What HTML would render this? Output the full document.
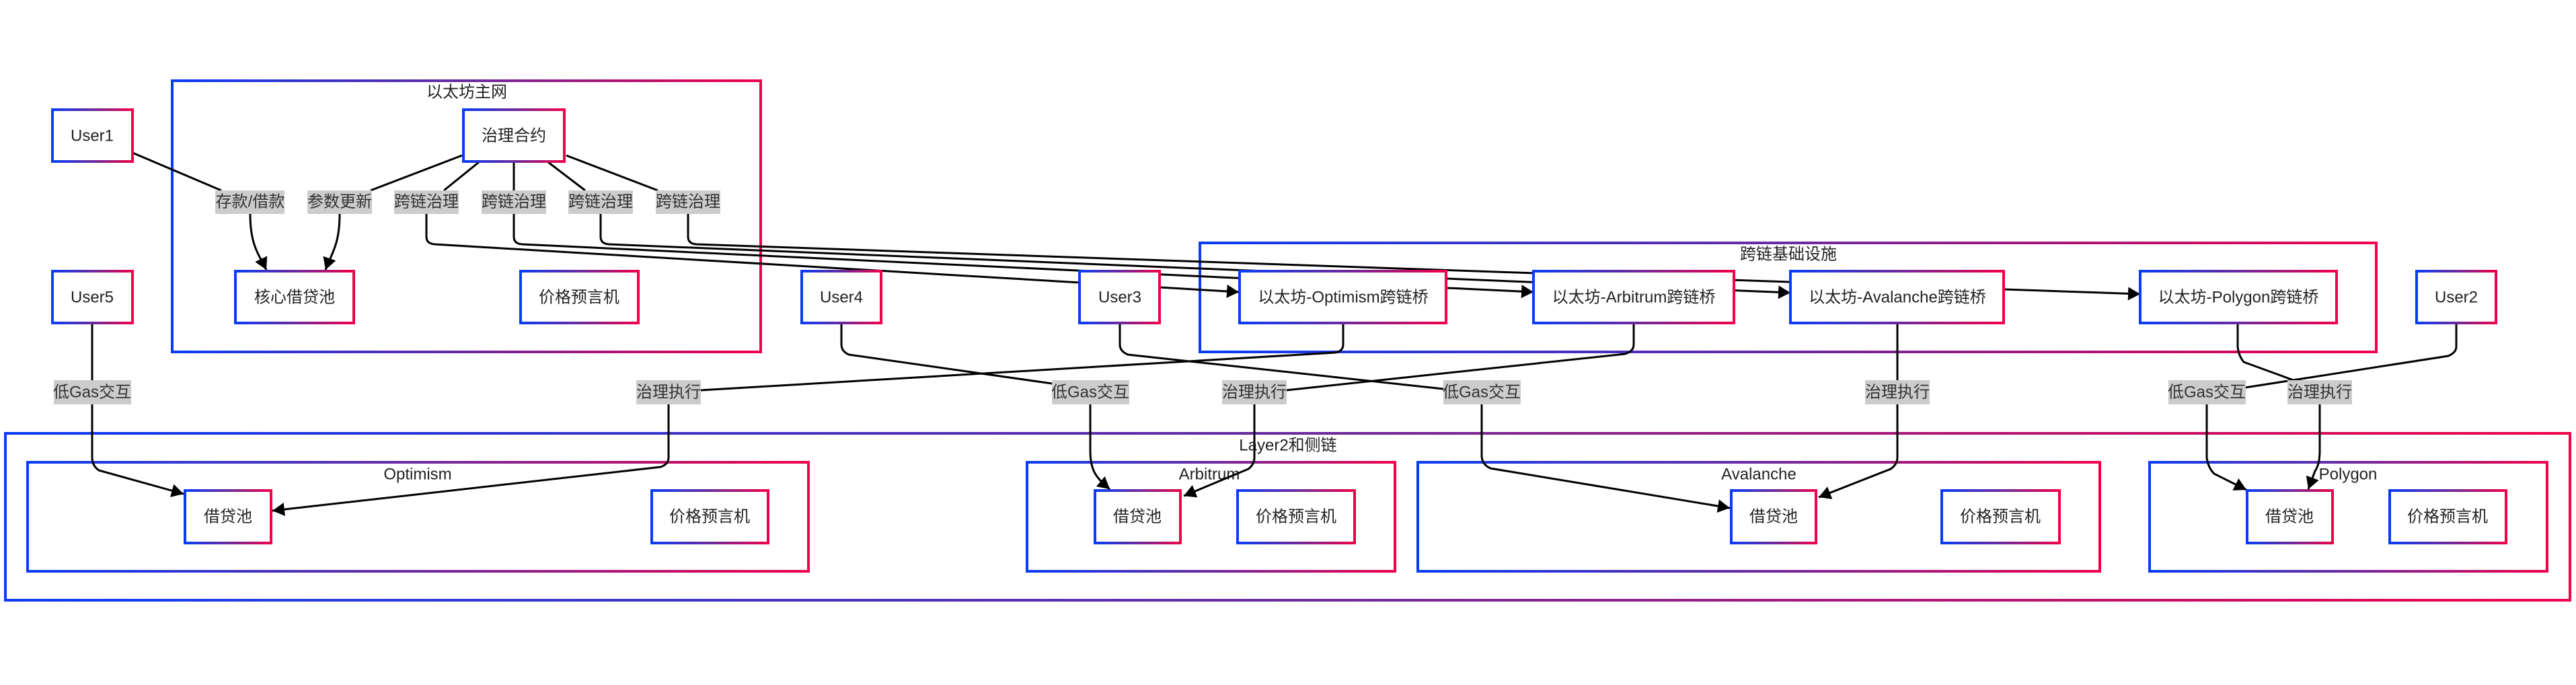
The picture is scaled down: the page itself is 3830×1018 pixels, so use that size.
<!DOCTYPE html>
<html><head><meta charset="utf-8"><style>
html,body{margin:0;padding:0;background:#fff;}
svg{display:block;}
text{font-family:"Liberation Sans","Noto Sans CJK SC",sans-serif;font-size:24px;}
.t{fill:#222;text-anchor:middle;dominant-baseline:central;}
.bx{fill:#fff;stroke:url(#g);stroke-width:4;}
.ct{fill:none;stroke:url(#g);stroke-width:4;}
.ln{fill:none;stroke:#000;stroke-width:3;}
.lb{fill:#cccccc;}
.lt{fill:#333;text-anchor:middle;dominant-baseline:central;}
</style></head><body>
<svg width="3830" height="1018" viewBox="0 0 3830 1018" xmlns="http://www.w3.org/2000/svg">
<defs>
<linearGradient id="g" x1="0" y1="0" x2="1" y2="0">
<stop offset="0" stop-color="#0a3cf5"/><stop offset="0.5" stop-color="#6a2aa0"/><stop offset="1" stop-color="#f0004a"/>
</linearGradient>
<marker id="a" markerUnits="userSpaceOnUse" markerWidth="24" markerHeight="24" refX="18" refY="10" orient="auto">
<path d="M0,0 L18,10 L0,20 Z" fill="#000"/>
</marker>
</defs>

<!-- containers -->
<rect class="ct" x="256" y="120" width="875" height="403"/>
<text class="t" x="694" y="137">以太坊主网</text>
<rect class="ct" x="1784" y="361" width="1749" height="162"/>
<text class="t" x="2659" y="378">跨链基础设施</text>
<rect class="ct" x="8" y="644" width="3813" height="248"/>
<text class="t" x="1915" y="662">Layer2和侧链</text>
<rect class="ct" x="41" y="687" width="1161" height="162"/>
<text class="t" x="621" y="705">Optimism</text>
<rect class="ct" x="1527" y="687" width="547" height="162"/>
<text class="t" x="1798" y="705">Arbitrum</text>
<rect class="ct" x="2108" y="687" width="1014" height="162"/>
<text class="t" x="2615" y="705">Avalanche</text>
<rect class="ct" x="3196" y="687" width="591" height="162"/>
<text class="t" x="3491" y="705">Polygon</text>

<!-- connectors -->
<path class="ln" d="M197,227 L329,283"/>
<path class="ln" d="M372,318 C372,365 385,378 396,401" marker-end="url(#a)"/>
<path class="ln" d="M687,231 L551,283"/>
<path class="ln" d="M505,318 C505,365 492,378 484,401" marker-end="url(#a)"/>
<path class="ln" d="M712,241 L660,283"/>
<path class="ln" d="M634,318 L634,352 Q634,362 646,363 L1842,434" marker-end="url(#a)"/>
<path class="ln" d="M764,241 L764,283"/>
<path class="ln" d="M764,318 L764,352 Q764,362 776,363 L2280,434" marker-end="url(#a)"/>
<path class="ln" d="M815,241 L870,283"/>
<path class="ln" d="M893,318 L893,352 Q893,362 905,363 L2662,435" marker-end="url(#a)"/>
<path class="ln" d="M842,231 L978,283"/>
<path class="ln" d="M1023,318 L1023,352 Q1023,362 1035,363 L3182,437" marker-end="url(#a)"/>

<path class="ln" d="M137,480 L137,565"/>
<path class="ln" d="M137,601 L137,680 Q137,692 147,699 L273,734" marker-end="url(#a)"/>
<path class="ln" d="M1997,480 L1997,512 Q1997,522 1985,524 L1041,580"/>
<path class="ln" d="M994,601 L994,680 Q994,690 982,694 L405,759" marker-end="url(#a)"/>
<path class="ln" d="M1251,480 L1251,512 Q1251,522 1262,527 L1564,570"/>
<path class="ln" d="M1621,601 L1621,670 C1621,700 1630,710 1650,727" marker-end="url(#a)"/>
<path class="ln" d="M1665,480 L1665,512 Q1665,522 1677,527 L2146,578"/>
<path class="ln" d="M2203,601 L2203,677 Q2203,690 2216,696 L2572,755" marker-end="url(#a)"/>
<path class="ln" d="M2429,480 L2429,512 Q2429,522 2416,526 L1912,580"/>
<path class="ln" d="M1865,601 L1865,680 Q1865,690 1856,697 L1760,737" marker-end="url(#a)"/>
<path class="ln" d="M2821,480 L2821,565"/>
<path class="ln" d="M2821,601 L2821,680 Q2821,690 2811,697 L2704,739" marker-end="url(#a)"/>
<path class="ln" d="M3327,480 L3327,515 Q3328,528 3336,538 L3410,565"/>
<path class="ln" d="M3449,601 L3449,670 Q3449,690 3442,700 L3432,727" marker-end="url(#a)"/>
<path class="ln" d="M3652,480 L3652,515 Q3652,524 3640,529 L3338,576"/>
<path class="ln" d="M3281,601 L3281,680 Q3283,695 3292,704 L3340,728" marker-end="url(#a)"/>

<!-- labels row 1 -->
<rect class="lb" x="320" y="283" width="103" height="35"/><text class="lt" x="372" y="300">存款/借款</text>
<rect class="lb" x="457" y="283" width="96" height="35"/><text class="lt" x="505" y="300">参数更新</text>
<rect class="lb" x="586" y="283" width="96" height="35"/><text class="lt" x="634" y="300">跨链治理</text>
<rect class="lb" x="716" y="283" width="96" height="35"/><text class="lt" x="764" y="300">跨链治理</text>
<rect class="lb" x="845" y="283" width="96" height="35"/><text class="lt" x="893" y="300">跨链治理</text>
<rect class="lb" x="975" y="283" width="96" height="35"/><text class="lt" x="1023" y="300">跨链治理</text>

<!-- labels row 2 -->
<rect class="lb" x="80" y="565" width="115" height="36"/><text class="lt" x="137" y="583">低Gas交互</text>
<rect class="lb" x="946" y="565" width="96" height="36"/><text class="lt" x="994" y="583">治理执行</text>
<rect class="lb" x="1564" y="565" width="115" height="36"/><text class="lt" x="1621" y="583">低Gas交互</text>
<rect class="lb" x="1817" y="565" width="96" height="36"/><text class="lt" x="1865" y="583">治理执行</text>
<rect class="lb" x="2146" y="565" width="115" height="36"/><text class="lt" x="2203" y="583">低Gas交互</text>
<rect class="lb" x="2773" y="565" width="96" height="36"/><text class="lt" x="2821" y="583">治理执行</text>
<rect class="lb" x="3224" y="565" width="115" height="36"/><text class="lt" x="3281" y="583">低Gas交互</text>
<rect class="lb" x="3401" y="565" width="96" height="36"/><text class="lt" x="3449" y="583">治理执行</text>

<!-- nodes -->
<rect class="bx" x="78" y="163" width="119" height="77"/><text class="t" x="137" y="202">User1</text>
<rect class="bx" x="689" y="163" width="150" height="77"/><text class="t" x="764" y="202">治理合约</text>
<rect class="bx" x="78" y="403" width="119" height="77"/><text class="t" x="137" y="442">User5</text>
<rect class="bx" x="350" y="403" width="176" height="77"/><text class="t" x="438" y="442">核心借贷池</text>
<rect class="bx" x="774" y="403" width="175" height="77"/><text class="t" x="861" y="442">价格预言机</text>
<rect class="bx" x="1192" y="403" width="118" height="77"/><text class="t" x="1251" y="442">User4</text>
<rect class="bx" x="1605" y="403" width="119" height="77"/><text class="t" x="1665" y="442">User3</text>
<rect class="bx" x="1843" y="403" width="307" height="77"/><text class="t" x="1997" y="442">以太坊-Optimism跨链桥</text>
<rect class="bx" x="2280" y="403" width="298" height="77"/><text class="t" x="2429" y="442">以太坊-Arbitrum跨链桥</text>
<rect class="bx" x="2662" y="403" width="317" height="77"/><text class="t" x="2821" y="442">以太坊-Avalanche跨链桥</text>
<rect class="bx" x="3182" y="403" width="292" height="77"/><text class="t" x="3328" y="442">以太坊-Polygon跨链桥</text>
<rect class="bx" x="3593" y="403" width="118" height="77"/><text class="t" x="3652" y="442">User2</text>

<rect class="bx" x="275" y="729" width="128" height="78"/><text class="t" x="339" y="768">借贷池</text>
<rect class="bx" x="969" y="729" width="173" height="78"/><text class="t" x="1055" y="768">价格预言机</text>
<rect class="bx" x="1628" y="729" width="127" height="78"/><text class="t" x="1691" y="768">借贷池</text>
<rect class="bx" x="1840" y="729" width="174" height="78"/><text class="t" x="1927" y="768">价格预言机</text>
<rect class="bx" x="2574" y="729" width="126" height="78"/><text class="t" x="2637" y="768">借贷池</text>
<rect class="bx" x="2887" y="729" width="175" height="78"/><text class="t" x="2974" y="768">价格预言机</text>
<rect class="bx" x="3341" y="729" width="127" height="78"/><text class="t" x="3404" y="768">借贷池</text>
<rect class="bx" x="3553" y="729" width="173" height="78"/><text class="t" x="3639" y="768">价格预言机</text>
</svg>
</body></html>
